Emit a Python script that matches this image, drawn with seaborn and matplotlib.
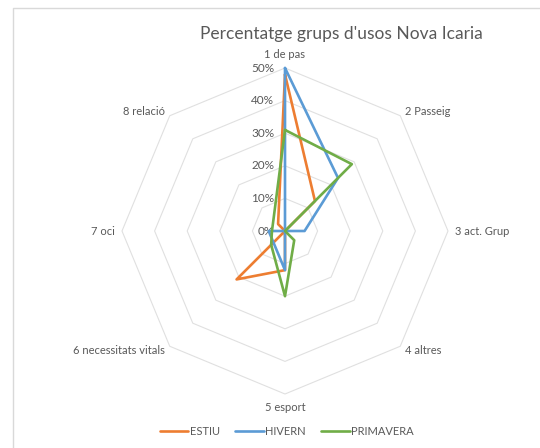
import numpy as np
import pandas as pd
import matplotlib
matplotlib.use("Agg")
import matplotlib.pyplot as plt
from matplotlib.lines import Line2D
import seaborn as sns

# categories (clockwise from the top)
categories = ["1 de pas", "2 Passeig", "3 act. Grup", "4 altres",
              "5 esport", "6 necessitats vitals", "7 oci", "8 relació"]
estiu = [48, 13, 0, 0, 12, 21, 0, 3]
hivern = [50, 23, 6, 0, 12, 5, 5, 0]
primavera = [31, 29, 0, 4, 20, 6, 4, 5]
series_names = ["ESTIU", "HIVERN", "PRIMAVERA"]
tick_values = [0, 10, 20, 30, 40, 50]

colors = ["#ED7D31", "#5B9BD5", "#70AD47"]
grey_txt = "#595959"

sns.set_theme(style="white")
plt.rcParams["font.family"] = ["Lato", "DejaVu Sans"]

n = len(categories)
angles = np.arange(n) * 2 * np.pi / n

# long table with radar coordinates (closing each polygon)
rows = []
for name, vals in zip(series_names, [estiu, hivern, primavera]):
    for i in range(n + 1):
        k = i % n
        rows.append({"serie": name, "order": i,
                     "x": vals[k] * np.sin(angles[k]),
                     "y": vals[k] * np.cos(angles[k])})
df = pd.DataFrame(rows)

fig = plt.figure(figsize=(5.4, 4.48), dpi=100)
ax = fig.add_axes([0, 0, 1, 1])
# 1 unit = 1% ; 50% -> 163 px, centre at (285, 231) px
s = 163 / 50
ax.set_xlim(-285 / s, (540 - 285) / s)
ax.set_ylim(-(448 - 231) / s, 231 / s)
ax.axis("off")

# octagon grid
for r in tick_values[1:]:
    gx = [r * np.sin(a) for a in np.append(angles, angles[0])]
    gy = [r * np.cos(a) for a in np.append(angles, angles[0])]
    ax.plot(gx, gy, color="#e0e0e0", lw=0.8, zorder=1)

sns.lineplot(data=df, x="x", y="y", hue="serie", palette=colors,
             sort=False, estimator=None, units="serie", lw=1.9,
             ax=ax, legend=False, zorder=3)

# tick labels
for t in tick_values:
    ax.text(-3.3, t, f"{t}%", ha="right", va="center", fontsize=8.5,
            color=grey_txt, zorder=2)

# category labels
for cat, a in zip(categories, angles):
    sx, sy = np.sin(a), np.cos(a)
    if abs(sx) < 0.1:
        ax.text(0, 54 * sy, cat, ha="center", va="center", fontsize=8, color=grey_txt)
    else:
        ha = "left" if sx > 0 else "right"
        r = 52.3 if abs(sy) < 0.1 else 52
        ax.text(r * sx, r * sy, cat, ha=ha, va="center", fontsize=8, color=grey_txt)

ax.text(17.2, 60.4, "Percentatge grups d'usos Nova Icaria", ha="center",
        va="center", fontsize=12.5, color=grey_txt)

handles = [Line2D([0], [0], color=c, lw=1.9) for c in colors]
fig.legend(handles, series_names, loc="center", bbox_to_anchor=(0.531, 0.036),
           ncol=3, frameon=False, fontsize=8, handlelength=2.6,
           handletextpad=0.1, columnspacing=1.4, labelcolor=grey_txt)

# chart area border
fig.add_artist(Line2D([13 / 540, 13 / 540, 1.0], [0.0, 1 - 8 / 448, 1 - 8 / 448],
                      transform=fig.transFigure, color="#d9d9d9", lw=1))

fig.savefig("out.png", dpi=100)
